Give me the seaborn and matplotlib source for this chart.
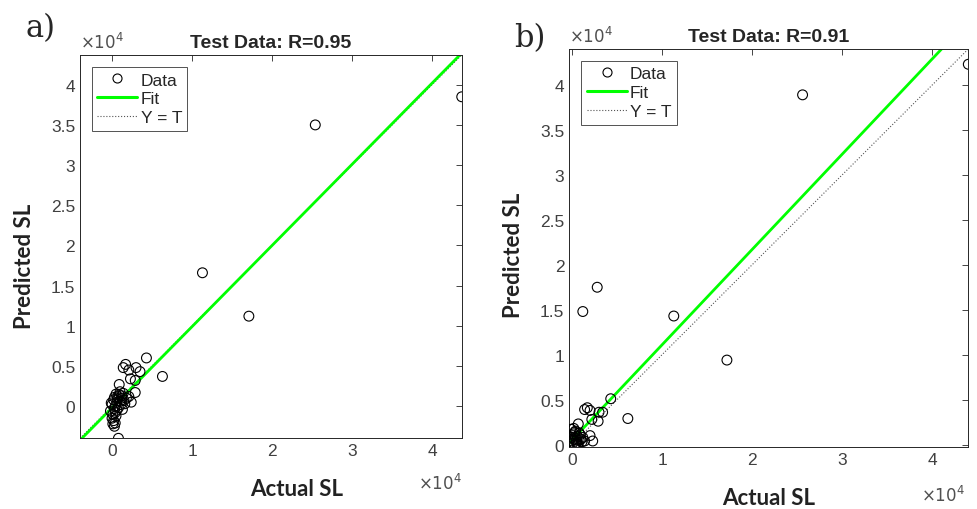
import numpy as np
import pandas as pd
import seaborn as sns
import matplotlib.pyplot as plt
from matplotlib.lines import Line2D

# values in units of 1e4
a_actual = [4.37, 2.54, 1.13, 1.71, 0.63, 0.43, 0.17, 0.14, 0.21, 0.30, 0.35, 0.23, 0.29,
            0.09, 0.29, 0.24, 0.21, 0.16, 0.04, 0.03, 0.08, -0.02, 0.05, 0.07, 0.10, 0.12,
            0.02, 0.00, 0.03, 0.06, 0.09, 0.11, 0.14, 0.01, 0.04, 0.08, 0.00, 0.02, 0.05,
            0.07, 0.12, 0.15, -0.01, 0.03, 0.06, 0.10, 0.01, 0.04, 0.13, 0.18]
a_pred = [3.85, 3.50, 1.66, 1.12, 0.37, 0.60, 0.52, 0.48, 0.45, 0.48, 0.43, 0.34, 0.32,
          0.27, 0.17, 0.05, 0.12, 0.03, -0.21, -0.25, -0.40, -0.06, 0.15, 0.12, 0.18, 0.10,
          0.08, 0.02, -0.03, 0.05, 0.14, 0.02, 0.16, -0.10, -0.08, -0.02, -0.15, -0.18, -0.12,
          0.09, 0.13, 0.07, 0.04, 0.11, -0.05, 0.06, -0.22, 0.00, -0.04, 0.10]

b_actual = [4.40, 2.56, 0.28, 0.12, 1.13, 1.72, 0.43, 0.62, 0.14, 0.17, 0.20, 0.30, 0.34,
            0.22, 0.29, 0.07, -0.01, 0.20, 0.23, 0.14, 0.02, 0.04, 0.06, 0.08, 0.10, 0.01,
            0.03, 0.05, 0.00, 0.02, 0.07, 0.09, 0.11, 0.04, 0.01, 0.06, 0.03, 0.00, 0.12,
            0.05, 0.08, 0.02]
b_pred = [4.23, 3.89, 1.75, 1.48, 1.43, 0.94, 0.51, 0.29, 0.39, 0.41, 0.38, 0.36, 0.36,
          0.28, 0.26, 0.23, 0.17, 0.10, 0.04, 0.04, 0.12, 0.15, 0.09, 0.13, 0.06, 0.02,
          0.00, 0.05, 0.08, 0.18, 0.01, 0.11, 0.03, 0.07, 0.10, 0.00, 0.14, 0.04, 0.08,
          0.02, 0.05, 0.06]

x_ticks = [0, 1, 2, 3, 4]
x_ticklabels = ["0", "1", "2", "3", "4"]
y_ticks = [0, 0.5, 1, 1.5, 2, 2.5, 3, 3.5, 4]
y_ticklabels = ["0", "0.5", "1", "1.5", "2", "2.5", "3", "3.5", "4"]

panels = [
    dict(tag="a)", title="Test Data: R=0.95", x=a_actual, y=a_pred, fit=(1.01, -0.02),
         lim=(-0.40, 4.37), pos=[0.0819, 0.1386, 0.3907, 0.7516],
         tagxy=(0.041, 0.945), xlab=(0.304, 0.041), ylab=(0.025, 0.478),
         xmul=(0.450, 0.053)),
    dict(tag="b)", title="Test Data: R=0.91", x=b_actual, y=b_pred, fit=(1.06, 0.05),
         lim=(-0.03, 4.40), pos=[0.5827, 0.1210, 0.4084, 0.7810],
         tagxy=(0.542, 0.925), xlab=(0.787, 0.022), ylab=(0.526, 0.500),
         xmul=(0.965, 0.030)),
]

sns.set_style("white")
plt.rcParams['font.family'] = ['Liberation Sans', 'DejaVu Sans']
fig = plt.figure(figsize=(9.77, 5.10), dpi=100)
grey = "#262626"

for p in panels:
    ax = fig.add_axes(p["pos"])
    lo, hi = p["lim"]
    line_x = np.array([lo, hi])
    ax.plot(line_x, line_x, ls=":", color="#555555", lw=0.8)
    fa, fb = p["fit"]
    sns.lineplot(x=line_x, y=fa * line_x + fb, ax=ax, color="#00ff00", lw=2)
    df = pd.DataFrame({"actual": p["x"], "pred": p["y"]})
    sns.scatterplot(data=df, x="actual", y="pred", ax=ax, marker="o", s=50,
                    facecolors="none", edgecolors="black", linewidth=0.8, zorder=3)
    ax.set_xlim(lo, hi)
    ax.set_ylim(lo, hi)
    ax.set_xticks(x_ticks)
    ax.set_xticklabels(x_ticklabels)
    ax.set_yticks(y_ticks)
    ax.set_yticklabels(y_ticklabels)
    ax.tick_params(direction="in", top=True, right=True, length=4, width=0.6,
                   color=grey, labelcolor="#404040", labelsize=12.5)
    for s in ax.spines.values():
        s.set_color(grey)
        s.set_linewidth(0.7)
    ax.set_xlabel("")
    ax.set_ylabel("")
    ax.set_title(p["title"], fontsize=14, fontweight="bold", pad=6)
    ax.text(0.0, 1.01, r"$\times 10^{4}$", transform=ax.transAxes, color="#505050",
            fontsize=12, ha="left", va="bottom")
    fig.text(*p["xmul"], r"$\times 10^{4}$", color="#505050", fontsize=12, ha="center",
             va="center")
    fig.text(*p["tagxy"], p["tag"], family=["DejaVu Serif"], fontsize=22, ha="center",
             va="center")
    fig.text(*p["xlab"], "Actual SL", family=["Lato", "DejaVu Sans"], fontweight="bold",
             fontsize=16, ha="center", va="center", color="#222222")
    fig.text(*p["ylab"], "Predicted SL", family=["Lato", "DejaVu Sans"], fontweight="bold",
             fontsize=16, ha="center", va="center", rotation=90, color="#222222")
    handles = [
        Line2D([], [], ls="none", marker="o", mfc="none", mec="black", ms=6.5, mew=0.8),
        Line2D([], [], color="#00ff00", lw=2.2),
        Line2D([], [], color="#555555", ls=":", lw=0.8),
    ]
    leg = ax.legend(handles, ["Data", "Fit", "Y = T"], loc="upper left", fontsize=12.5,
                    frameon=True, fancybox=False, edgecolor=grey, handlelength=2.3,
                    handletextpad=0.2, borderpad=0.3, labelspacing=0.22,
                    borderaxespad=0.7)
    leg.get_frame().set_linewidth(0.7)

fig.savefig("out.png", dpi=100)
